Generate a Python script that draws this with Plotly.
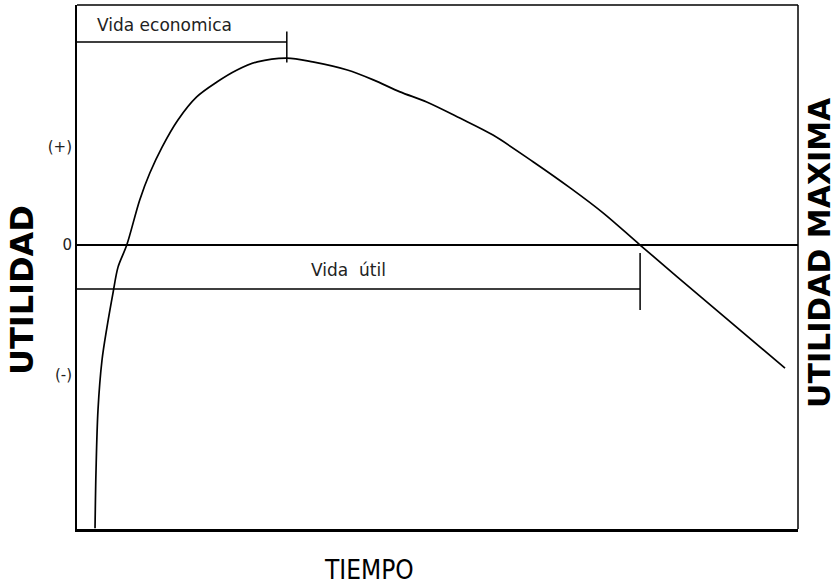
import plotly.graph_objects as go

# Utility over the life of an asset
tiempo = [0.25, 0.264, 0.291, 0.347, 0.416, 0.499, 0.569, 0.69, 0.87, 1.01, 1.18, 1.40,
          1.66, 1.94, 2.22, 2.50, 2.91, 3.27, 3.75, 4.11, 4.48, 4.85, 5.31, 5.77, 6.33,
          6.84, 7.30, 7.81, 8.64, 9.82]
utilidad = [-11.8, -9.38, -6.88, -4.79, -3.42, -2.0, -0.92, 0.0, 1.88, 3.0, 4.08, 5.21,
            6.17, 6.79, 7.29, 7.63, 7.79, 7.63, 7.29, 6.88, 6.38, 5.96, 5.29, 4.58, 3.46,
            2.38, 1.33, 0.0, -2.13, -5.13]

# Life markers (end of economic life = peak, end of useful life = zero crossing)
fin_vida_economica = 2.91
fin_vida_util = 7.81
nivel_vida_economica = 8.46
nivel_vida_util = -1.83

tick_vals = [4.08, 0, -5.42]
tick_text = ["(+)", "0", "(-)"]

x_range = [0, 10]
y_range = [-11.83, 10]

fig = go.Figure()

# zero line
fig.add_trace(go.Scatter(x=x_range, y=[0, 0], mode="lines",
                         line=dict(color="black", width=2), hoverinfo="skip"))

# utility curve
fig.add_trace(go.Scatter(x=tiempo, y=utilidad, mode="lines",
                         line=dict(color="black", width=1.7, shape="spline", smoothing=0.9),
                         hoverinfo="skip"))

# economic life bracket
fig.add_trace(go.Scatter(x=[0, fin_vida_economica, fin_vida_economica, fin_vida_economica],
                         y=[nivel_vida_economica, nivel_vida_economica, 8.9, 7.6],
                         mode="lines", line=dict(color="black", width=1.5), hoverinfo="skip"))

# useful life bracket
fig.add_trace(go.Scatter(x=[0, fin_vida_util, fin_vida_util, fin_vida_util],
                         y=[nivel_vida_util, nivel_vida_util, -0.33, -2.71],
                         mode="lines", line=dict(color="black", width=1.5), hoverinfo="skip"))

fig.add_annotation(x=1.22, y=9.17, text="Vida economica", showarrow=False,
                   font=dict(family="DejaVu Sans", size=17, color="#222"))
fig.add_annotation(x=3.76, y=-1.04, text="Vida&nbsp;&nbsp;útil", showarrow=False,
                   font=dict(family="DejaVu Sans", size=17, color="#222"))

# axis titles
fig.add_annotation(xref="paper", yref="paper", x=-0.0763, y=0.456, text="UTILIDAD",
                   textangle=-90, showarrow=False, xanchor="center", yanchor="middle",
                   font=dict(family="DejaVu Sans", size=32, color="black", weight="bold"))
fig.add_annotation(xref="paper", yref="paper", x=1.029, y=0.5286, text="UTILIDAD MAXIMA",
                   textangle=-90, showarrow=False, xanchor="center", yanchor="middle",
                   font=dict(family="DejaVu Sans", size=30, color="black", weight="bold"))
fig.add_annotation(xref="paper", yref="paper", x=0.405, y=-0.0782, text="TIEMPO",
                   showarrow=False, xanchor="center", yanchor="middle",
                   font=dict(family="DejaVu Sans Condensed, DejaVu Sans", size=26,
                             color="black"))

# frame: top and right edges
fig.add_shape(type="line", xref="paper", yref="paper", x0=0, x1=1, y0=1, y1=1,
              line=dict(color="black", width=1.5))
fig.add_shape(type="line", xref="paper", yref="paper", x0=1, x1=1, y0=0, y1=1,
              line=dict(color="black", width=1.5))

fig.update_layout(
    width=838, height=584,
    margin=dict(l=77, r=40, t=5, b=55),
    paper_bgcolor="white", plot_bgcolor="white",
    showlegend=False,
    xaxis=dict(range=x_range, showgrid=False, zeroline=False, showticklabels=False,
               ticks="", showline=True, linecolor="black", linewidth=3, fixedrange=True),
    yaxis=dict(range=y_range, showgrid=False, zeroline=False, tickvals=tick_vals,
               ticktext=tick_text, ticks="", showline=True, linecolor="black", linewidth=2,
               tickfont=dict(family="DejaVu Sans", size=15, color="#222"), fixedrange=True),
)

fig.write_html("out.html")
